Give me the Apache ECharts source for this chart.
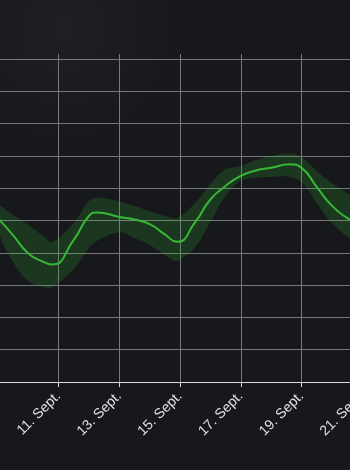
<!DOCTYPE html>
<html>
<head>
<meta charset="utf-8">
<script src="https://cdn.jsdelivr.net/npm/echarts@6/dist/echarts.min.js"></script>
<style>
html,body{margin:0;padding:0;background:#17181c;}
#c{width:350px;height:470px;}
</style>
</head>
<body>
<div id="c"></div>
<script>
// x positions in days of September
var days = [9, 9.5, 10, 10.5, 10.79, 11.5, 12, 12.27, 13, 13.5, 14, 14.5, 14.9, 15.5, 16, 16.5, 17, 17.5, 18, 18.62, 19, 19.5, 20, 20.5, 21];
var lineVals = [5.08, 4.55, 3.99, 3.72, 3.64, 4.40, 5.14, 5.25, 5.11, 5.03, 4.89, 4.57, 4.34, 4.95, 5.65, 6.07, 6.38, 6.55, 6.63, 6.74, 6.63, 6.04, 5.46, 5.08, 4.83];
var highVals = [5.45, 5.17, 4.86, 4.52, 4.33, 4.92, 5.60, 5.71, 5.59, 5.45, 5.29, 5.14, 5.08, 5.54, 6.13, 6.58, 6.69, 6.87, 7.00, 7.07, 6.97, 6.53, 6.16, 5.85, 5.60];
var lowVals = [4.71, 3.72, 3.13, 2.94, 2.94, 3.50, 4.15, 4.37, 4.64, 4.46, 4.24, 3.93, 3.75, 4.18, 4.95, 5.76, 6.22, 6.32, 6.35, 6.35, 6.19, 5.54, 4.92, 4.51, 4.24];
var xTicks = {min: 9, max: 21, interval: 2};
var yTicks = {min: 0, max: 10.155, interval: 1};

var rangeData = days.map(function (d, i) { return [d, lowVals[i], highVals[i]]; });
var lineData = days.map(function (d, i) { return [d, lineVals[i]]; });

function renderBand(params, api) {
  if (params.dataIndex !== 0) return null;
  var pts = [];
  var i;
  for (i = 0; i < days.length; i++) pts.push(api.coord([days[i], highVals[i]]));
  for (i = days.length - 1; i >= 0; i--) pts.push(api.coord([days[i], lowVals[i]]));
  return {
    type: 'polygon',
    shape: {points: pts, smooth: 0.35},
    style: {fill: 'rgba(52,182,52,0.2)', stroke: null}
  };
}

var chart = echarts.init(document.getElementById('c'), null, {renderer: 'canvas'});
chart.setOption({
  animation: false,
  backgroundColor: {
    type: 'radial', x: 0.18, y: 0.06, r: 0.35,
    colorStops: [{offset: 0, color: '#1f2024'}, {offset: 1, color: '#17181c'}]
  },
  grid: {left: -2.25, right: -12.25, top: 54, bottom: 88, containLabel: false, outerBoundsMode: 'none'},
  xAxis: {
    type: 'value',
    min: xTicks.min, max: xTicks.max, interval: xTicks.interval,
    axisLine: {show: true, lineStyle: {color: '#dcdcdc', width: 1}},
    axisTick: {show: true, length: 5, lineStyle: {color: '#dcdcdc'}},
    splitLine: {show: true, lineStyle: {color: '#78787c', width: 1}},
    axisLabel: {
      rotate: 45, margin: 12, color: '#e0e0e3',
      fontFamily: 'Liberation Sans, Arial, sans-serif', fontSize: 14,
      showMinLabel: true, showMaxLabel: true, hideOverlap: false,
      formatter: function (v) { return v + '. Sept.'; }
    }
  },
  yAxis: {
    type: 'value',
    min: yTicks.min, max: yTicks.max, interval: yTicks.interval,
    axisLine: {show: false}, axisTick: {show: false}, axisLabel: {show: false},
    splitLine: {show: true, showMaxLine: false, lineStyle: {color: '#78787c', width: 1}}
  },
  series: [
    {
      type: 'custom', data: rangeData, renderItem: renderBand, silent: true, clip: true,
      encode: {x: 0, y: [1, 2]}, z: 1
    },
    {
      type: 'line', data: lineData, smooth: 0.55, symbol: 'none',
      lineStyle: {color: '#36b836', width: 2}, z: 5
    }
  ]
});
</script>
</body>
</html>
